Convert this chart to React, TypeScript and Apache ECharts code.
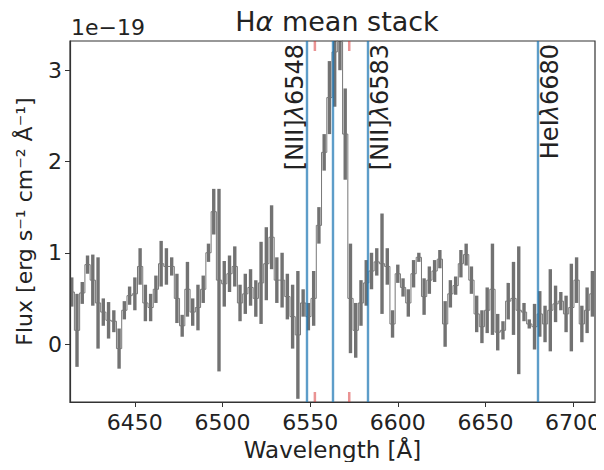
import React, { useEffect, useRef } from "react";
import * as echarts from "echarts";

const wavelengths = [
  6414, 6417, 6420, 6423, 6426, 6429, 6432, 6435, 6438, 6441,
  6444, 6447, 6450, 6453, 6456, 6459, 6462, 6465, 6468, 6471,
  6474, 6477, 6480, 6483, 6486, 6489, 6492, 6495, 6498, 6501,
  6504, 6507, 6510, 6513, 6516, 6519, 6522, 6525, 6528, 6531,
  6534, 6537, 6540, 6543, 6546, 6549, 6552, 6555, 6558, 6561,
  6564, 6567, 6570, 6573, 6576, 6579, 6582, 6585, 6588, 6591,
  6594, 6597, 6600, 6603, 6606, 6609, 6612, 6615, 6618, 6621,
  6624, 6627, 6630, 6633, 6636, 6639, 6642, 6645, 6648, 6651,
  6654, 6657, 6660, 6663, 6666, 6669, 6672, 6675, 6678, 6681,
  6684, 6687, 6690, 6693, 6696, 6699, 6702, 6705, 6708, 6711,
];

const fluxes = [
  0.57, 0.15, 0.56, 0.87, 0.7, 0.45, 0.35, 0.26, 0.25, -0.05,
  0.37, 0.53, 0.55, 0.85, 0.45, 0.4, 0.6, 0.88, 0.85, 0.85,
  0.5, 0.2, 0.6, 0.35, 0.4, 0.6, 1.0, 1.45, 0.7, 0.66,
  0.77, 0.85, 0.45, 0.55, 0.62, 0.5, 0.67, 0.88, 1.17, 0.7,
  0.7, 0.52, 0.3, 0.1, 0.45, 0.3, 0.5, 1.3, 2.1, 2.7,
  3.2, 3.5, 2.3, 0.5, 0.15, 0.45, 0.67, 0.8, 0.9, 0.88,
  0.85, 0.22, 0.77, 0.62, 0.45, 0.77, 0.95, 0.52, 0.7, 0.8,
  0.93, 0.22, 0.55, 0.64, 0.88, 0.98, 0.7, 0.33, 0.19, 0.37,
  0.6, 0.13, 0.15, 0.47, 0.5, 0.37, 0.35, 0.22, 0.19, 0.33,
  0.22, 0.37, 0.44, 0.47, 0.33, 0.4, 0.7, 0.22, 0.37, 0.55,
];

const errors = [
  0.16, 0.4, 0.12, 0.1, 0.28, 0.5, 0.15, 0.2, 0.12, 0.22,
  0.1, 0.1, 0.18, 0.2, 0.2, 0.15, 0.15, 0.25, 0.2, 0.1,
  0.27, 0.12, 0.3, 0.15, 0.25, 0.15, 0.1, 0.25, 1.0, 0.25,
  0.2, 0.22, 0.2, 0.22, 0.2, 0.2, 0.45, 0.4, 0.35, 0.25,
  0.3, 0.25, 0.35, 0.7, 0.15, 0.15, 0.3, 0.2, 0.2, 0.4,
  0.6, 0.5, 0.5, 0.6, 0.3, 0.25, 0.25, 0.2, 0.15, 0.55,
  0.2, 0.15, 0.1, 0.1, 0.15, 0.15, 0.05, 0.2, 0.15, 0.12,
  0.1, 0.25, 0.15, 0.1, 0.15, 0.12, 0.15, 0.2, 0.18, 0.25,
  0.5, 0.2, 0.1, 0.2, 0.4, 0.7, 0.1, 0.05, 0.25, 0.25,
  0.2, 0.45, 0.2, 0.1, 0.2, 0.48, 0.25, 0.2, 0.25, 0.25,
];

const lineWavelengths = [6548, 6563, 6583, 6680];
const lineLabels = ["[NII]{i|λ}6548", "", "[NII]{i|λ}6583", "HeI{i|λ}6680"];
const labelSide = [-1, 0, 1, 1];
const redWindow = [6552.7, 6572.3];

const xTicks = [6450, 6500, 6550, 6600, 6650, 6700];
const yTicks = [0, 1, 2, 3];
const xRange = [6413, 6712.5];
const yRange = [-0.635, 3.32];

const FONT = "DejaVu Sans";

export default function App() {
  const ref = useRef<HTMLDivElement>(null);
  useEffect(() => {
    if (!ref.current) return;
    const chart = echarts.init(ref.current, null, { renderer: "svg" });
    const spec = wavelengths.map((w, i) => [w, fluxes[i]]);
    const errData = wavelengths.map((w, i) => [w, fluxes[i], errors[i]]);
    const redSegs: any[] = [];
    redWindow.forEach((w) => {
      [
        [[w, yRange[1]], [w, yRange[1] - 0.11]],
        [[w, yRange[0]], [w, yRange[0] + 0.11]],
      ].forEach((seg) => {
        redSegs.push({
          type: "line",
          data: seg,
          showSymbol: false,
          lineStyle: { color: "rgba(214,39,40,0.5)", width: 2.5 },
          silent: true,
          z: 4,
        });
      });
    });
    const option: any = {
      animation: false,
      textStyle: { fontFamily: FONT },
      title: {
        text: "H{i|α} mean stack",
        left: 332,
        textAlign: "center",
        top: 3,
        textStyle: {
          fontFamily: FONT,
          fontSize: 27,
          fontWeight: "normal",
          color: "#222",
          rich: { i: { fontFamily: FONT, fontSize: 27, fontStyle: "italic", color: "#222" } },
        },
      },
      grid: {
        left: 70,
        right: 9,
        top: 41,
        bottom: 68,
        containLabel: false,
        outerBoundsMode: "none",
        show: true,
        borderColor: "#333",
        borderWidth: 1.2,
        backgroundColor: "#fff",
      },
      xAxis: {
        type: "value",
        min: xRange[0],
        max: xRange[1],
        name: "Wavelength [Å]",
        nameLocation: "middle",
        nameGap: 36,
        nameTextStyle: { fontFamily: FONT, fontSize: 23, color: "#222" },
        axisLine: { show: true, onZero: false, lineStyle: { color: "#333", width: 1.2 } },
        axisTick: { show: true, customValues: xTicks, length: 5, lineStyle: { color: "#333" } },
        axisLabel: {
          customValues: xTicks,
          formatter: (v: number) => String(v),
          fontFamily: FONT,
          fontSize: 22,
          color: "#222",
          margin: 9,
        },
        splitLine: { show: false },
      },
      yAxis: {
        type: "value",
        min: yRange[0],
        max: yRange[1],
        name: "Flux [erg s⁻¹ cm⁻² Å⁻¹]",
        nameLocation: "middle",
        nameGap: 35,
        nameRotate: 90,
        nameTextStyle: { fontFamily: FONT, fontSize: 22, color: "#222" },
        axisLine: { show: true, onZero: false, lineStyle: { color: "#333", width: 1.2 } },
        axisTick: { show: true, customValues: yTicks, length: 5, lineStyle: { color: "#333" } },
        axisLabel: {
          customValues: yTicks,
          formatter: (v: number) => String(v),
          fontFamily: FONT,
          fontSize: 22,
          color: "#222",
          margin: 8,
        },
        splitLine: { show: false },
      },
      series: [
        {
          type: "custom",
          data: errData,
          clip: true,
          z: 2,
          renderItem: (params: any, api: any) => {
            const w = api.value(0);
            const f = api.value(1);
            const e = api.value(2);
            const top = api.coord([w, f + e]);
            const bot = api.coord([w, f - e]);
            return {
              type: "rect",
              shape: { x: top[0] - 1.7, y: top[1], width: 3.4, height: bot[1] - top[1] },
              style: { fill: "rgba(60,60,60,0.72)" },
            };
          },
          silent: true,
        },
        {
          type: "line",
          data: spec,
          step: "middle",
          showSymbol: false,
          clip: true,
          lineStyle: { color: "#777", width: 1 },
          silent: true,
          z: 3,
          markLine: {
            symbol: "none",
            silent: true,
            label: { show: false },
            lineStyle: { color: "rgba(31,119,180,0.72)", width: 2.4, type: "solid" },
            data: lineWavelengths.map((w) => ({ xAxis: w })),
          },
        },
        ...redSegs,
      ],
    };
    chart.setOption(option);

    const graphics: any[] = [];
    lineWavelengths.forEach((w, i) => {
      if (!lineLabels[i]) return;
      const p = chart.convertToPixel({ gridIndex: 0 }, [w, yRange[1]]) as number[];
      graphics.push({
        type: "text",
        x: p[0] + labelSide[i] * 12,
        y: p[1] + 3,
        rotation: Math.PI / 2,
        style: {
          text: lineLabels[i],
          font: `24px "${FONT}"`,
          fill: "#222",
          align: "right",
          verticalAlign: "middle",
          rich: { i: { fontFamily: FONT, fontSize: 24, fontStyle: "italic", fill: "#222" } },
        },
        z: 10,
      });
    });
    const origin = chart.convertToPixel({ gridIndex: 0 }, [xRange[0], yRange[1]]) as number[];
    graphics.push({
      type: "text",
      x: origin[0] + 1,
      y: origin[1] - 3,
      style: {
        text: "1e−19",
        font: `22px "${FONT}"`,
        fill: "#222",
        align: "left",
        verticalAlign: "bottom",
      },
      z: 10,
    });
    chart.setOption({ graphic: graphics });

    return () => chart.dispose();
  }, []);
  return <div ref={ref} style={{ width: 604, height: 470, margin: -8 }} />;
}
